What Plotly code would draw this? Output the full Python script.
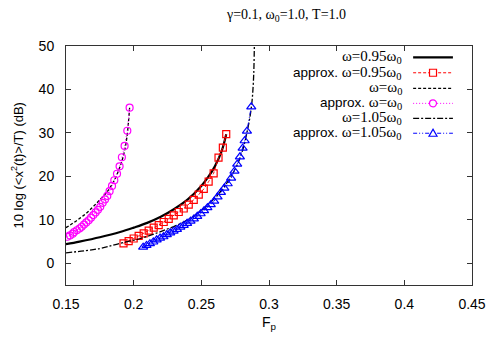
import plotly.graph_objects as go

# ---- data ----
# omega = 0.95 omega0 (exact)
fp_095 = [0.150, 0.160, 0.175, 0.190, 0.200, 0.210, 0.220, 0.230, 0.240, 0.250, 0.255, 0.260, 0.265, 0.2684]
db_095 = [4.4, 5.0, 6.0, 7.2, 8.2, 9.3, 10.7, 12.5, 14.7, 17.8, 19.8, 22.3, 25.8, 29.7]

# approx omega = 0.95 omega0
fp_095a = [0.1925, 0.1963, 0.2000, 0.2037, 0.2074, 0.2111, 0.2148, 0.2185, 0.2222, 0.2259, 0.2296,
           0.2333, 0.2370, 0.2407, 0.2444, 0.2481, 0.2518, 0.2554, 0.2591, 0.2627, 0.2659, 0.2684]
db_095a = [4.6, 5.1, 5.7, 6.3, 6.9, 7.5, 8.2, 8.8, 9.5, 10.2, 11.0,
           11.8, 12.6, 13.5, 14.6, 15.8, 17.1, 18.8, 20.7, 24.3, 26.6, 29.7]

# omega = omega0 (exact)
fp_100 = [0.150, 0.155, 0.160, 0.165, 0.170, 0.175, 0.180, 0.185, 0.190, 0.193, 0.195, 0.197]
db_100 = [8.2, 9.2, 10.3, 11.5, 13.0, 14.6, 16.3, 18.7, 22.3, 25.5, 29.0, 35.8]

# approx omega = omega0
fp_100a = [0.1510, 0.1530, 0.1550, 0.1560, 0.1580, 0.1600, 0.1616, 0.1633, 0.1650, 0.1668, 0.1685,
           0.1702, 0.1719, 0.1736, 0.1753, 0.1771, 0.1788, 0.1805, 0.1822, 0.1840, 0.1857, 0.1877,
           0.1896, 0.1913, 0.1933, 0.1953, 0.1970]
db_100a = [6.1, 6.4, 6.8, 7.2, 7.6, 8.0, 8.4, 8.9, 9.4, 9.9, 10.5,
           11.1, 11.7, 12.3, 13.0, 13.9, 14.7, 15.5, 16.6, 17.8, 19.1, 20.6,
           22.3, 24.4, 27.0, 30.5, 35.8]

# omega = 1.05 omega0 (exact)
fp_105 = [0.150, 0.175, 0.190, 0.205, 0.220, 0.235, 0.245, 0.255, 0.265, 0.275, 0.280, 0.284, 0.287, 0.2885, 0.2892]
db_105 = [2.4, 3.4, 4.6, 5.7, 7.3, 9.2, 11.0, 13.5, 16.8, 21.7, 25.5, 30.5, 36.0, 42.0, 50.5]

# approx omega = 1.05 omega0
fp_105a = [0.2070, 0.2095, 0.2120, 0.2145, 0.2170, 0.2195, 0.2220, 0.2245, 0.2270, 0.2295, 0.2320,
           0.2345, 0.2370, 0.2395, 0.2420, 0.2445, 0.2470, 0.2495, 0.2520, 0.2545, 0.2570, 0.2595,
           0.2620, 0.2645, 0.2670, 0.2695, 0.2720, 0.2745, 0.2765, 0.2785, 0.2805, 0.2820, 0.2837, 0.2869]
db_105a = [3.7, 4.1, 4.5, 4.9, 5.4, 5.8, 6.1, 6.6, 7.0, 7.4, 7.8,
           8.3, 8.7, 9.2, 9.7, 10.2, 10.8, 11.4, 12.1, 12.8, 13.5, 14.3,
           15.3, 16.3, 17.3, 18.3, 19.6, 21.2, 22.8, 24.5, 26.5, 28.2, 30.4, 36.0]

x_ticks = [0.15, 0.2, 0.25, 0.3, 0.35, 0.4, 0.45]
x_tick_text = ["0.15", "0.2", "0.25", "0.3", "0.35", "0.4", "0.45"]
y_ticks = [0, 10, 20, 30, 40, 50]

SERIF = "Liberation Serif, Times New Roman, serif"
SANS = "Liberation Sans, Arial, sans-serif"

fig = go.Figure()

fig.add_trace(go.Scatter(x=fp_095, y=db_095, mode="lines", line=dict(color="black", width=2.2, shape="spline"),
                         showlegend=False))
fig.add_trace(go.Scatter(x=fp_095a, y=db_095a, mode="lines+markers",
                         line=dict(color="red", width=1, dash="3px,2px"),
                         marker=dict(symbol="square-open", size=7, color="red", line=dict(width=1.2)),
                         showlegend=False))
fig.add_trace(go.Scatter(x=fp_100, y=db_100, mode="lines", line=dict(color="black", width=1.3, dash="3px,2px", shape="spline"),
                         showlegend=False))
fig.add_trace(go.Scatter(x=fp_100a, y=db_100a, mode="lines+markers",
                         line=dict(color="#ff00ff", width=1, dash="1px,2px"),
                         marker=dict(symbol="circle-open", size=7, color="#ff00ff", line=dict(width=1.2)),
                         showlegend=False))
fig.add_trace(go.Scatter(x=fp_105, y=db_105, mode="lines", line=dict(color="black", width=1.3, dash="6px,2px,2px,2px", shape="spline"),
                         showlegend=False))
fig.add_trace(go.Scatter(x=fp_105a, y=db_105a, mode="lines+markers",
                         line=dict(color="blue", width=1, dash="4px,2px,1px,2px,1px,2px"),
                         marker=dict(symbol="triangle-up-open", size=8, color="blue", line=dict(width=1.2)),
                         showlegend=False))

# ---- manual gnuplot-style legend (text right-aligned, sample to the right) ----
def w(s):
    return f'<span style="font-family:{SERIF};font-size:15px">{s}</span>'

legend_rows = [
    (w("ω=0.95ω<sub>0</sub>"), dict(color="black", width=2.2), None, "black"),
    ("approx. " + w("ω=0.95ω<sub>0</sub>"), dict(color="red", width=1, dash="3px,2px"), "square", "red"),
    (w("ω=ω<sub>0</sub>"), dict(color="black", width=1.3, dash="3px,2px"), None, "black"),
    ("approx. " + w("ω=ω<sub>0</sub>"), dict(color="#ff00ff", width=1, dash="1px,2px"), "circle", "#ff00ff"),
    (w("ω=1.05ω<sub>0</sub>"), dict(color="black", width=1.3, dash="6px,2px,2px,2px"), None, "black"),
    ("approx. " + w("ω=1.05ω<sub>0</sub>"), dict(color="blue", width=1, dash="4px,2px,1px,2px,1px,2px"), "triangle", "blue"),
]
row_y = [0.9527, 0.888, 0.823, 0.760, 0.697, 0.635]
text_x = 0.8325
line_x0, line_x1, mark_x = 0.855, 0.953, 0.904

annotations = []
shapes = []
for (label, lstyle, mk, col), yy in zip(legend_rows, row_y):
    annotations.append(dict(x=text_x, y=yy, xref="paper", yref="paper", text=label, showarrow=False,
                            xanchor="right", yanchor="middle", font=dict(family=SANS, size=13.5, color="black")))
    shapes.append(dict(type="line", xref="paper", yref="paper", x0=line_x0, x1=line_x1, y0=yy, y1=yy, line=lstyle))
    if mk == "square":
        shapes.append(dict(type="rect", xref="paper", yref="paper", xsizemode="pixel", ysizemode="pixel",
                           xanchor=mark_x, yanchor=yy, x0=-3.5, x1=3.5, y0=-3.5, y1=3.5,
                           line=dict(color=col, width=1.2), fillcolor="white"))
    elif mk == "circle":
        shapes.append(dict(type="circle", xref="paper", yref="paper", xsizemode="pixel", ysizemode="pixel",
                           xanchor=mark_x, yanchor=yy, x0=-3.5, x1=3.5, y0=-3.5, y1=3.5,
                           line=dict(color=col, width=1.2), fillcolor="white"))
    elif mk == "triangle":
        shapes.append(dict(type="path", xref="paper", yref="paper", xsizemode="pixel", ysizemode="pixel",
                           xanchor=mark_x, yanchor=yy, path="M -4,-3 L 4,-3 L 0,4 Z",
                           line=dict(color=col, width=1.2), fillcolor="white"))

# title and axis titles
annotations.append(dict(x=0.542, y=(285 - 15) / 239, xref="paper", yref="paper",
                        text="γ=0.1, ω<sub>0</sub>=1.0, T=1.0", showarrow=False,
                        xanchor="center", yanchor="middle", font=dict(family=SERIF, size=14, color="black")))
annotations.append(dict(x=0.502, y=-0.159, xref="paper", yref="paper", text="F<sub>p</sub>", showarrow=False,
                        xanchor="center", yanchor="middle", font=dict(family=SANS, size=14, color="black")))
annotations.append(dict(x=-0.1207, y=0.5, xref="paper", yref="paper", text="10 log (&lt;x<sup>2</sup>(t)&gt;/T) (dB)",
                        showarrow=False, textangle=-90, xanchor="center", yanchor="middle",
                        font=dict(family=SANS, size=13, color="black")))

fig.update_layout(
    width=500, height=350,
    margin=dict(l=66, r=28, t=46, b=65),
    paper_bgcolor="white", plot_bgcolor="white",
    showlegend=False,
    annotations=annotations, shapes=shapes,
    font=dict(family=SANS, size=14, color="black"),
)
fig.update_xaxes(range=[0.15, 0.45], tickvals=x_ticks, ticktext=x_tick_text, ticks="inside", ticklen=5,
                 showline=True, linecolor="#333", linewidth=1, mirror="ticks", showgrid=False, zeroline=False,
                 tickcolor="#333", ticklabelstandoff=6, tickfont=dict(family=SANS, size=14))
fig.update_yaxes(range=[-5, 50], tickvals=y_ticks, ticks="inside", ticklen=5,
                 showline=True, linecolor="#333", linewidth=1, mirror="ticks", showgrid=False, zeroline=False,
                 tickcolor="#333", ticklabelstandoff=8, tickfont=dict(family=SANS, size=14))

fig.write_html("out.html", config={"displayModeBar": False},
               post_script="document.body.style.margin='0';document.body.style.overflow='hidden';")
